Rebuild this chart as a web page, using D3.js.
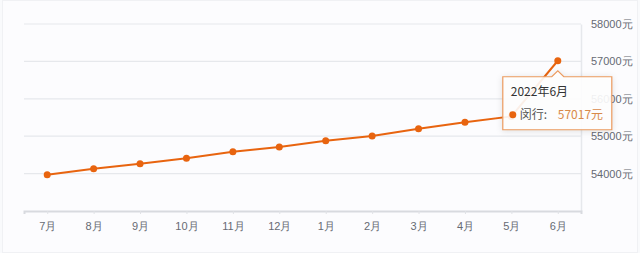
<!DOCTYPE html>
<html>
<head>
<meta charset="utf-8">
<script src="https://cdn.jsdelivr.net/npm/d3@7"></script>
<style>
  html, body { margin: 0; padding: 0; background: #ffffff; }
  svg { display: block; font-family: "Noto Sans CJK SC", "Noto Sans", sans-serif; }
</style>
</head>
<body>
<svg id="mainSvg" width="640" height="253"></svg>
<script>
// 月份 / 单价（元）
var months = ["7月", "8月", "9月", "10月", "11月", "12月", "1月", "2月", "3月", "4月", "5月", "6月"];
var prices = [53970, 54130, 54265, 54410, 54585, 54710, 54880, 55005, 55200, 55370, 55530, 57017];
var yTicks = [54000, 55000, 56000, 57000, 58000];
var tipTitle = "2022年6月";
var tipName = "闵行";
var tipIndex = 11;

var lineColor = "#e8640f";     // 折线颜色
var gridColor = "#e6e8ec";     // 网格线颜色
var textColor = "#666a73";     // 坐标轴文字颜色

window.addEventListener("load", drawChart);

function drawChart()
{
    const svg = d3.select("#mainSvg");
    const width = +svg.attr("width");
    const height = +svg.attr("height");
    const margin = {top: 24, right: 59, bottom: 42, left: 24};
    const innerWidth = width - margin.left - margin.right;
    const innerHeight = height - margin.top - margin.bottom;

    // background
    svg.append("rect").attr("x", 0).attr("y", 0).attr("width", width).attr("height", height)
        .attr("fill", "#f9fafc");
    svg.append("rect").attr("x", 2.5).attr("y", 0.5).attr("width", width - 5).attr("height", height - 1)
        .attr("fill", "#fcfcfe").attr("stroke", "#f0f1f4");

    const g = svg.append("g").attr("transform", `translate(${margin.left}, ${margin.top})`);

    const xScale = d3.scalePoint().domain(months).range([0, innerWidth]).padding(0.5);
    const yScale = d3.scaleLinear().domain([53000, 58000]).range([innerHeight, 0]);

    // grid + right axis
    const yAxis = d3.axisRight(yScale).tickValues(yTicks)
        .tickSize(0).tickPadding(10).tickFormat(d => d + "元");
    const yAxisGroup = g.append("g").attr("transform", `translate(${innerWidth}, 0)`).call(yAxis);
    yAxisGroup.select(".domain").attr("stroke", gridColor).attr("stroke-width", 1.5);
    yAxisGroup.selectAll("text").attr("fill", textColor).attr("font-size", "11px");

    g.append("g").selectAll("line").data(yTicks).join("line")
        .attr("x1", 0).attr("x2", innerWidth)
        .attr("y1", d => yScale(d)).attr("y2", d => yScale(d))
        .attr("stroke", gridColor).attr("stroke-width", 1.2);

    // bottom axis
    const xAxis = d3.axisBottom(xScale).tickSize(3).tickPadding(8);
    const xAxisGroup = g.append("g").attr("transform", `translate(0, ${innerHeight})`).call(xAxis);
    xAxisGroup.select(".domain").attr("stroke", "#d8dadf").attr("stroke-width", 2);
    xAxisGroup.selectAll(".tick line").attr("stroke", "#e0e2e6");
    xAxisGroup.selectAll("text").attr("fill", textColor).attr("font-size", "11px");

    // line
    const line = d3.line().x((d, i) => xScale(months[i])).y(d => yScale(d));
    g.append("path").datum(prices)
        .attr("fill", "none").attr("stroke", lineColor).attr("stroke-width", 2)
        .attr("d", line);
    g.append("g").selectAll("circle").data(prices).join("circle")
        .attr("cx", (d, i) => xScale(months[i])).attr("cy", d => yScale(d))
        .attr("r", 3.5).attr("fill", lineColor);

    // tooltip
    const px = xScale(months[tipIndex]);
    const py = yScale(prices[tipIndex]);
    const bx = px - 55, by = py + 16, bw = 109, bh = 53;
    const tip = g.append("g");
    tip.append("path")
        .attr("d", `M${bx},${by} H${px - 6} L${px},${py + 10} L${px + 6},${by} H${bx + bw} V${by + bh} H${bx} Z`)
        .attr("fill", "rgba(255,255,255,0.9)").attr("stroke", "#ec9a5e").attr("stroke-width", 1.2)
        .style("filter", "drop-shadow(0px 1px 3px rgba(0,0,0,0.12))");
    tip.append("text").attr("x", bx + 8).attr("y", by + 19)
        .attr("font-size", "12px").attr("fill", "#333").text(tipTitle);
    tip.append("circle").attr("cx", bx + 10).attr("cy", by + 38).attr("r", 3.5).attr("fill", lineColor);
    tip.append("text").attr("x", bx + 17).attr("y", by + 42)
        .attr("font-size", "12px").attr("fill", "#555").text(tipName + ":");
    tip.append("text").attr("x", bx + 55).attr("y", by + 42)
        .attr("font-size", "12px").attr("fill", "#d98a4a").text(prices[tipIndex] + "元");
}
</script>
</body>
</html>
